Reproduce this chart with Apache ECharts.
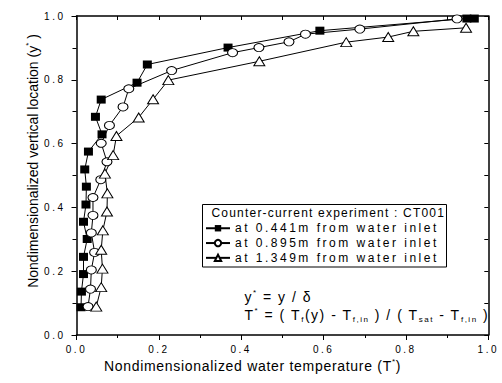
<!DOCTYPE html>
<html><head><meta charset="utf-8">
<script src="https://cdn.jsdelivr.net/npm/echarts@6/dist/echarts.min.js"></script>
<style>
html,body{margin:0;padding:0;background:#fff}
#c{width:502px;height:383px}
text[style*="sp07"]{letter-spacing:0.7px}
text[style*="sp12"]{letter-spacing:1.2px}
text[style*="sp15"]{letter-spacing:1.5px}
text[style*="sp25"]{letter-spacing:2.5px}
</style></head><body><div id="c"></div>
<script>
// ---- data (T*, y*) ----
const xTickLabels = ['0.0','0.2','0.4','0.6','0.8','1.0'];
const yTickLabels = ['0.0','0.2','0.4','0.6','0.8','1.0'];
const seriesNames = ['at 0.441m from water inlet','at 0.895m from water inlet','at 1.349m from water inlet'];
const pos441 = [[0.011,0.087],[0.012,0.136],[0.017,0.191],[0.017,0.245],[0.026,0.301],[0.017,0.355],[0.023,0.409],[0.024,0.465],[0.020,0.519],[0.029,0.575],[0.062,0.629],[0.046,0.684],[0.060,0.738],[0.147,0.791],[0.172,0.848],[0.368,0.901],[0.591,0.954],[0.948,0.992],[0.966,0.992]];
const pos895 = [[0.028,0.089],[0.034,0.144],[0.036,0.204],[0.044,0.259],[0.036,0.320],[0.040,0.375],[0.040,0.431],[0.059,0.487],[0.074,0.543],[0.060,0.601],[0.080,0.657],[0.113,0.715],[0.127,0.772],[0.231,0.829],[0.379,0.885],[0.443,0.901],[0.516,0.919],[0.556,0.943],[0.688,0.959],[0.924,0.991]];
const pos1349 = [[0.048,0.089],[0.060,0.150],[0.063,0.208],[0.060,0.267],[0.064,0.328],[0.074,0.387],[0.075,0.444],[0.069,0.506],[0.089,0.564],[0.097,0.624],[0.151,0.682],[0.186,0.739],[0.223,0.799],[0.444,0.858],[0.655,0.918],[0.757,0.934],[0.818,0.952],[0.946,0.963]];

// text measurement consistent with CSS letter-spacing tags (spNN = N/10 px)
const mc = document.createElement('canvas').getContext('2d');
function measure(text, font){
  mc.font = font || '12px sans-serif';
  let w = mc.measureText(text).width;
  const m = /sp(\d\d)/.exec(font || '');
  if (m) w += text.length * parseInt(m[1], 10) / 10;
  return {width: w};
}
if (echarts.setPlatformAPI) echarts.setPlatformAPI({measureText: measure});

const chart = echarts.init(document.getElementById('c'), null, {renderer: 'svg'});
const black = '#000';
const lbl = {fontSize: 10, fontFamily: 'sp25, Liberation Sans', color: black};
function frameAxis(extra){
  return Object.assign({
    type: 'value', min: 0, max: 1,
    axisLine: {onZero: false, lineStyle: {color: black, width: 1.5}},
    splitLine: {show: false}, minorSplitLine: {show: false}
  }, extra);
}
chart.setOption({
  animation: false,
  grid: {left: 76.5, right: 8.5, top: 16, bottom: 48},
  xAxis: [
    frameAxis({position: 'bottom', interval: 0.2,
      axisTick: {length: 5, lineStyle: {color: black}},
      minorTick: {show: true, splitNumber: 2, length: 3, lineStyle: {color: black}},
      axisLabel: Object.assign({margin: 8, formatter: v => xTickLabels[Math.round(v / 0.2)]}, lbl)}),
    frameAxis({position: 'top', interval: 0.1,
      axisTick: {inside: true, length: 4, lineStyle: {color: black}},
      axisLabel: {show: false}})
  ],
  yAxis: [
    frameAxis({position: 'left', interval: 0.2,
      axisTick: {length: 5, lineStyle: {color: black}},
      minorTick: {show: true, splitNumber: 2, length: 4, lineStyle: {color: black}},
      axisLabel: Object.assign({margin: 11, formatter: v => yTickLabels[Math.round(v / 0.2)]}, lbl)}),
    frameAxis({position: 'right', interval: 0.1,
      axisTick: {inside: true, length: 4, lineStyle: {color: black}},
      axisLabel: {show: false}})
  ],
  legend: {
    left: 205, top: 221, orient: 'vertical', padding: 0,
    itemWidth: 24, itemHeight: 8, itemGap: 0.3, selectedMode: false,
    textStyle: {fontSize: 12, fontFamily: 'sp25, Liberation Sans', color: black, lineHeight: 13},
    data: seriesNames
  },
  series: [
    {name: seriesNames[0], type: 'line', data: pos441, symbol: 'rect', symbolSize: [9, 8],
     itemStyle: {color: black}, lineStyle: {color: black, width: 1}},
    {name: seriesNames[1], type: 'line', data: pos895, symbol: 'circle', symbolSize: [10, 8],
     itemStyle: {color: '#fff', borderColor: black, borderWidth: 1}, lineStyle: {color: black, width: 1}},
    {name: seriesNames[2], type: 'line', data: pos1349, symbol: 'triangle', symbolSize: [11, 9],
     itemStyle: {color: '#fff', borderColor: black, borderWidth: 1}, lineStyle: {color: black, width: 1}}
  ],
  graphic: [
    {type: 'rect', shape: {x: 202.5, y: 204.5, width: 244, height: 62.5},
     style: {fill: 'none', stroke: black, lineWidth: 1}, z: 10},
    {type: 'text', x: 211.5, y: 213.3, z: 10,
     style: {text: 'Counter-current experiment : CT001', fontSize: 12, fontFamily: 'sp12, Liberation Sans',
             fill: black, align: 'left', verticalAlign: 'middle'}},
    {type: 'text', x: 244.5, y: 297, z: 10,
     style: {text: '{m|y}{sup|*}{m| = y / δ}', fill: black, align: 'left', verticalAlign: 'middle',
             rich: {m: {fontSize: 14, fontFamily: 'sp15, Liberation Sans', lineHeight: 18},
                    sup: {fontSize: 8, fontFamily: 'sp15, Liberation Sans', verticalAlign: 'top'}}}},
    {type: 'text', x: 244.5, y: 315, z: 10,
     style: {text: '{m|T}{sup|*}{m| = ( T}{sub|f}{m|(y) - T}{sub|f,in}{m| ) / ( T}{sub|sat}{m| - T}{sub|f,in}{m| )}',
             fill: black, align: 'left', verticalAlign: 'middle',
             rich: {m: {fontSize: 14, fontFamily: 'sp15, Liberation Sans', lineHeight: 18},
                    sup: {fontSize: 8, fontFamily: 'sp15, Liberation Sans', verticalAlign: 'top'},
                    sub: {fontSize: 8, fontFamily: 'sp15, Liberation Sans', verticalAlign: 'bottom'}}}},
    {type: 'text', x: 252.5, y: 366, z: 10,
     style: {text: '{a|Nondimensionalized water temperature (T}{s|*}{a|)}', fill: black,
             align: 'center', verticalAlign: 'middle',
             rich: {a: {fontSize: 14, fontFamily: 'sp07, Liberation Sans', lineHeight: 18},
                    s: {fontSize: 8, fontFamily: 'sp07, Liberation Sans', verticalAlign: 'top'}}}},
    {type: 'text', x: 33, y: 161, rotation: Math.PI / 2, z: 10,
     style: {text: '{a|Nondimensionalized vertical location (y}{s|*}{a| )}', fill: black,
             align: 'center', verticalAlign: 'middle',
             rich: {a: {fontSize: 14, fontFamily: 'Liberation Sans', lineHeight: 18},
                    s: {fontSize: 8, fontFamily: 'Liberation Sans', verticalAlign: 'top'}}}}
  ]
});
</script></body></html>
